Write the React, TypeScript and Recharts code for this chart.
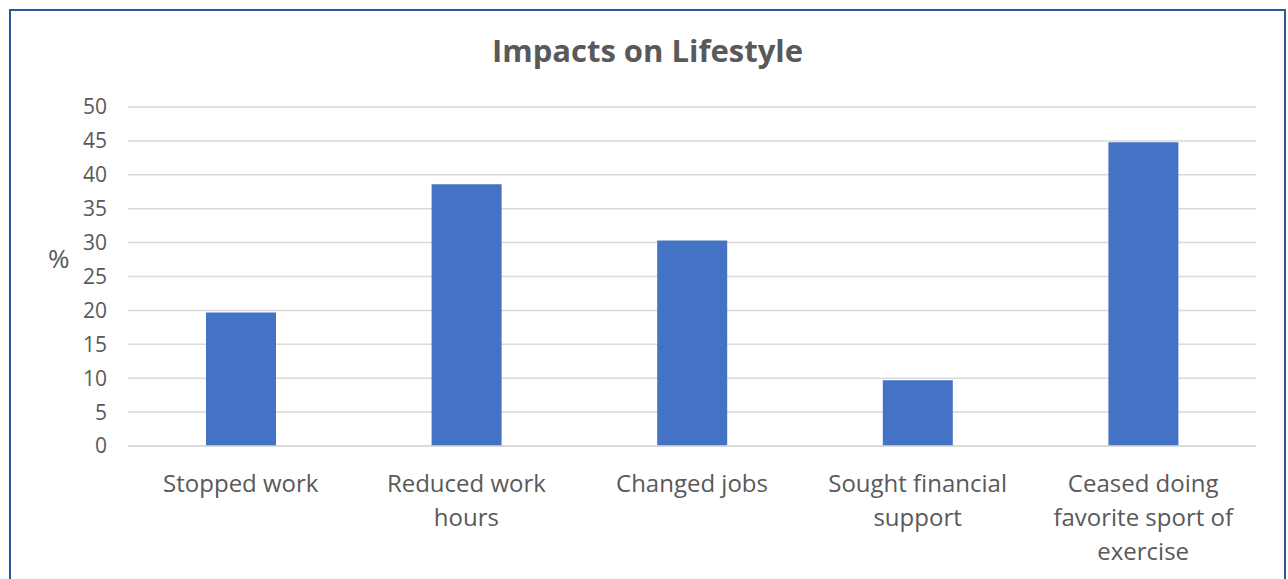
import React from 'react';
import { BarChart, Bar, XAxis, YAxis, CartesianGrid } from 'recharts';

const categories = [
  'Stopped work',
  'Reduced work hours',
  'Changed jobs',
  'Sought financial support',
  'Ceased doing favorite sport of exercise',
];
const tickLines: string[][] = [
  ['Stopped work'],
  ['Reduced work', 'hours'],
  ['Changed jobs'],
  ['Sought financial', 'support'],
  ['Ceased doing', 'favorite sport of', 'exercise'],
];
const values = [19.7, 38.6, 30.3, 9.7, 44.8];
const yTicks = [0, 5, 10, 15, 20, 25, 30, 35, 40, 45, 50];

const data = categories.map((c, i) => ({ name: c, value: values[i], idx: i }));

const FONT = '"Open Sans", sans-serif';
const GRAY = '#595959';

const XTick = (props: any) => {
  const { x, y, payload } = props;
  const lines = tickLines[payload.index] || [String(payload.value)];
  return (
    <g>
      {lines.map((l, i) => (
        <text
          key={i}
          x={x}
          y={y}
          dy={37.5 + i * 34}
          textAnchor="middle"
          fill={GRAY}
          fontSize={24}
          fontFamily={FONT}
        >
          {l}
        </text>
      ))}
    </g>
  );
};

export default function App() {
  return (
    <div
      style={{
        position: 'fixed',
        left: 9,
        top: 9,
        width: 1277,
        height: 600,
        border: '2px solid #2F5597',
        boxSizing: 'border-box',
        background: '#fff',
        overflow: 'hidden',
      }}
    >
      <div
        style={{
          position: 'absolute',
          left: 0,
          right: 0,
          top: 18,
          textAlign: 'center',
          fontFamily: FONT,
          fontWeight: 700,
          fontSize: 31,
          color: GRAY,
        }}
      >
        Impacts on Lifestyle
      </div>
      <div
        style={{
          position: 'absolute',
          left: 37,
          top: 229,
          fontFamily: FONT,
          fontSize: 26,
          color: GRAY,
        }}
      >
        %
      </div>
      <BarChart
        width={1273}
        height={566}
        data={data}
        margin={{ top: 96, right: 28, left: 0, bottom: 0 }}
      >
        <CartesianGrid vertical={false} stroke="#D9D9D9" strokeWidth={1.5} />
        <XAxis
          dataKey="name"
          height={131}
          tickLine={false}
          axisLine={{ stroke: '#D9D9D9', strokeWidth: 1.5 }}
          tick={<XTick />}
          interval={0}
        />
        <YAxis
          width={117}
          domain={[0, 50]}
          ticks={yTicks}
          interval={0}
          tickLine={false}
          axisLine={false}
          tickMargin={15}
          tick={{ fill: GRAY, fontSize: 21, fontFamily: FONT }}
        />
        <Bar dataKey="value" fill="#4472C4" barSize={70} isAnimationActive={false} />
      </BarChart>
    </div>
  );
}
